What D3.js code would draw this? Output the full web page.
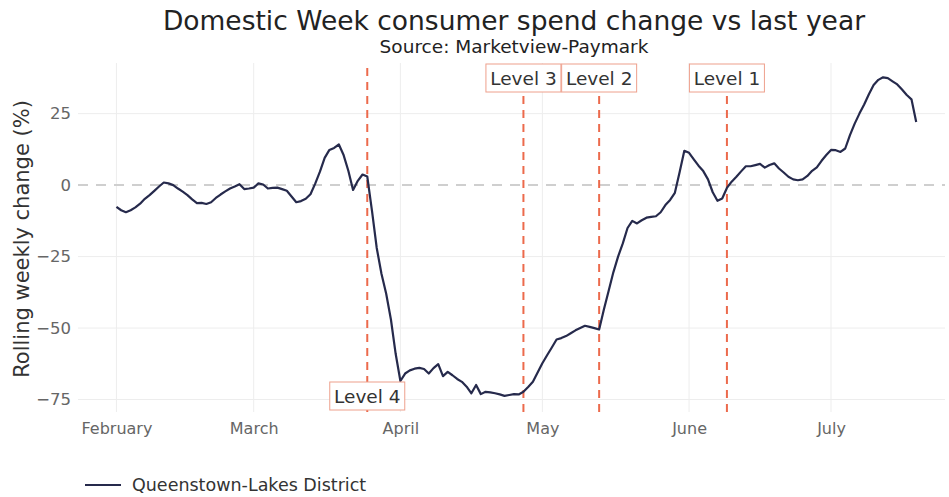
<!DOCTYPE html>
<html>
<head>
<meta charset="utf-8">
<script src="https://cdn.jsdelivr.net/npm/d3@7"></script>
<style>
  html, body { margin: 0; padding: 0; background: #fff; }
  svg { display: block; }
  text { font-family: "DejaVu Sans", Verdana, sans-serif; }
</style>
</head>
<body>
<svg id="chart" width="949" height="497"></svg>
<script>
// Daily rolling weekly change (%) for Queenstown-Lakes District, from 1 Feb 2020
const seriesName = "Queenstown-Lakes District";
const firstDay = "2020-02-01";
const lastDay = "2020-07-19";
const changePct = [
  -7.6, -8.8, -9.5, -8.8, -7.8, -6.5, -4.8, -3.5, -2.0, -0.5,
   0.9,  0.6,  0.0, -1.2, -2.3, -3.5, -5.0, -6.3, -6.2, -6.6,
  -6.0, -4.5, -3.3, -2.2, -1.2, -0.5,  0.3, -1.4, -1.2, -0.9,
   0.6,  0.2, -1.2, -1.0, -0.9, -1.4, -2.0, -4.0, -6.0, -5.6,
  -4.8, -3.2,  0.5,  4.7,  9.5, 12.3, 13.0, 14.2, 10.5,  5.0,
  -1.7,  1.5,  3.7,  3.0, -9.0, -22.0, -31.0, -38.0, -47.0, -59.0,
  -68.5, -65.9, -64.8, -64.2, -63.9, -64.3, -65.9, -64.0, -62.6, -66.8,
  -65.3, -66.5, -67.8, -68.8, -70.5, -72.8, -69.9, -73.1, -72.3, -72.5,
  -72.8, -73.2, -73.7, -73.4, -73.1, -73.2, -72.3, -70.6, -68.8, -65.5,
  -62.3, -59.5, -56.8, -54.0, -53.5, -52.8, -51.8, -50.8, -50.0, -49.2,
  -49.6, -50.0, -50.5, -43.5, -37.0, -30.5, -25.0, -20.4, -15.0, -12.5,
  -13.4, -12.3, -11.4, -11.1, -10.9, -9.5, -7.0, -5.2, -2.7,  4.5,
  12.0, 11.3,  9.0,  6.8,  4.9,  2.0, -2.5, -5.5, -4.7, -1.0,
   1.2,  2.9,  4.8,  6.6,  6.6,  7.0,  7.4,  6.1,  7.0,  7.6,
   5.8,  4.4,  2.9,  2.0,  1.7,  2.0,  3.2,  5.0,  6.2,  8.5,
  10.5, 12.3, 12.2, 11.6, 12.8, 17.5, 21.5, 25.0, 28.2, 31.8,
  35.0, 36.8, 37.7, 37.4, 36.3, 35.2, 33.4, 31.5, 30.0, 22.1
];

// Alert level changes
const levelNames = ["Level 4", "Level 3", "Level 2", "Level 1"];
const levelDates = ["2020-03-25", "2020-04-27", "2020-05-13", "2020-06-09"];
const levelLabelAt = ["bottom", "top", "top", "top"];

// Axis ticks
const monthTicks = ["2020-02-01", "2020-03-01", "2020-04-01", "2020-05-01", "2020-06-01", "2020-07-01"];
const monthLabels = ["February", "March", "April", "May", "June", "July"];
const yTicks = [-75, -50, -25, 0, 25];

const parse = d3.utcParse("%Y-%m-%d");
const days = d3.utcDay.range(parse(firstDay), d3.utcDay.offset(parse(lastDay), 1));
const data = days.map((d, i) => ({ date: d, value: changePct[i] }));

const svg = d3.select("#chart");
const plot = { left: 78, right: 945, top: 63, bottom: 412 };

const x = d3.scaleUtc()
  .domain([d3.utcHour.offset(parse("2020-01-23"), 21), d3.utcHour.offset(parse("2020-07-25"), 2)])
  .range([plot.left, plot.right]);
const y = d3.scaleLinear()
  .domain([-79, 42])
  .range([411, 65]);

// Grid
const grid = svg.append("g");
grid.selectAll("line.v")
  .data(monthTicks.map(parse))
  .join("line")
  .attr("x1", d => x(d)).attr("x2", d => x(d))
  .attr("y1", plot.top).attr("y2", plot.bottom)
  .attr("stroke", "#ededed").attr("stroke-width", 1);
grid.selectAll("line.h")
  .data(yTicks.filter(t => t !== 0))
  .join("line")
  .attr("x1", plot.left).attr("x2", plot.right)
  .attr("y1", d => y(d)).attr("y2", d => y(d))
  .attr("stroke", "#ededed").attr("stroke-width", 1);

// Zero reference line
svg.append("line")
  .attr("x1", plot.left).attr("x2", plot.right)
  .attr("y1", y(0)).attr("y2", y(0))
  .attr("stroke", "#cfcfcf").attr("stroke-width", 2)
  .attr("stroke-dasharray", "10,8");

// Y axis
const yAxis = d3.axisLeft(y).tickValues(yTicks).tickSize(0).tickPadding(0)
  .tickFormat(d3.format("d"));
svg.append("g")
  .attr("transform", `translate(71,0)`)
  .call(yAxis)
  .call(g => g.select(".domain").remove())
  .call(g => g.selectAll("text")
    .attr("fill", "#666").style("font-size", "16.5px")
    .style("font-family", "'DejaVu Sans', Verdana, sans-serif"));

// X axis
const xAxis = d3.axisBottom(x).tickValues(monthTicks.map(parse)).tickSize(0).tickPadding(0)
  .tickFormat((d, i) => monthLabels[i]);
svg.append("g")
  .call(xAxis)
  .call(g => g.select(".domain").remove())
  .call(g => g.selectAll("text")
    .attr("y", 434).attr("dy", 0)
    .attr("fill", "#666").style("font-size", "16px")
    .style("font-family", "'DejaVu Sans', Verdana, sans-serif"));

// Alert level markers
const levels = levelNames.map((n, i) => ({ name: n, date: parse(levelDates[i]), at: levelLabelAt[i] }));
svg.append("g").selectAll("line")
  .data(levels)
  .join("line")
  .attr("x1", d => x(d.date)).attr("x2", d => x(d.date))
  .attr("y1", plot.top + 5).attr("y2", plot.bottom)
  .attr("stroke", "#ec6a4c").attr("stroke-width", 2)
  .attr("stroke-dasharray", "8,6");

// Series line
const line = d3.line()
  .x(d => x(d.date))
  .y(d => y(d.value))
  .curve(d3.curveLinear);
svg.append("path")
  .datum(data)
  .attr("d", line)
  .attr("fill", "none")
  .attr("stroke", "#262a4c")
  .attr("stroke-width", 2.2)
  .attr("stroke-linejoin", "round");

// Level labels
const labelG = svg.append("g").selectAll("g")
  .data(levels)
  .join("g")
  .attr("transform", d => `translate(${x(d.date)},${d.at === "top" ? 78 : 396})`);
labelG.append("rect")
  .attr("x", -37.5).attr("y", -14)
  .attr("width", 75).attr("height", 28)
  .attr("fill", "#fff")
  .attr("stroke", "#eea08c").attr("stroke-width", 1);
labelG.append("text")
  .attr("text-anchor", "middle")
  .attr("y", 7)
  .attr("fill", "#333")
  .style("font-size", "18.5px")
  .text(d => d.name);

// Titles
svg.append("text")
  .attr("x", 514).attr("y", 30)
  .attr("text-anchor", "middle")
  .attr("fill", "#222")
  .style("font-size", "26.5px")
  .text("Domestic Week consumer spend change vs last year");
svg.append("text")
  .attr("x", 514).attr("y", 53)
  .attr("text-anchor", "middle")
  .attr("fill", "#222")
  .style("font-size", "18.5px")
  .text("Source: Marketview-Paymark");

// Y axis title
svg.append("text")
  .attr("transform", "translate(29,239) rotate(-90)")
  .attr("text-anchor", "middle")
  .attr("fill", "#333")
  .style("font-size", "21px")
  .text("Rolling weekly change (%)");

// Legend
svg.append("line")
  .attr("x1", 85).attr("x2", 121)
  .attr("y1", 485).attr("y2", 485)
  .attr("stroke", "#262a4c").attr("stroke-width", 2.2);
svg.append("text")
  .attr("x", 132).attr("y", 490.5)
  .attr("fill", "#333")
  .style("font-size", "17.5px")
  .text(seriesName);
</script>
</body>
</html>
